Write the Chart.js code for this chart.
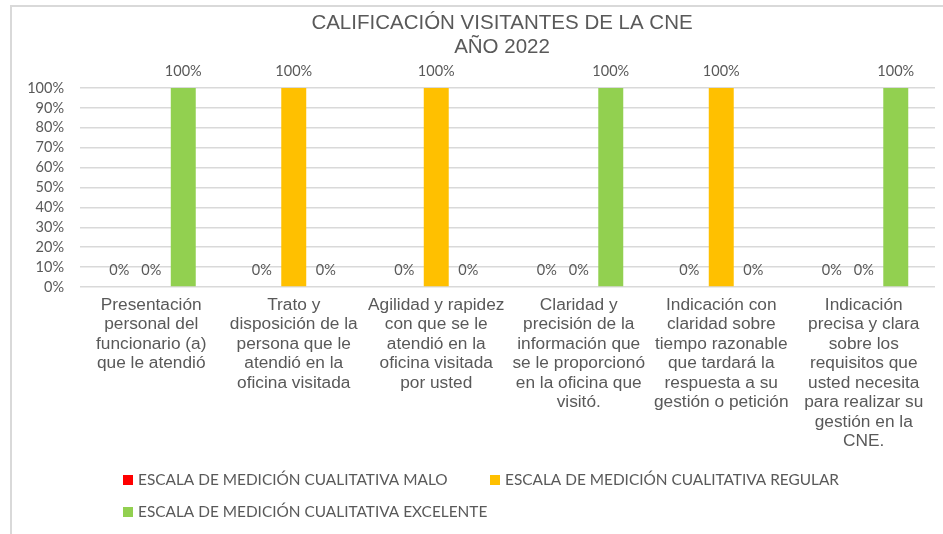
<!DOCTYPE html>
<html>
<head>
<meta charset="utf-8">
<script src="https://cdn.jsdelivr.net/npm/chart.js@4"></script>
<style>
    html, body { margin: 0; padding: 0; background: #fff; overflow: hidden; }
    #marco {
        position: absolute; left: 10px; top: 5px;
        width: 980px; height: 527px;
        border-left: 2px solid #d9d9d9; border-top: 2px solid #d9d9d9;
    }
    #grafico { display: block; }
</style>
</head>
<body>
<div id="marco"><canvas id="grafico" width="980" height="527"></canvas></div>
<script>
const categorias = [
    ['Presentación', 'personal del', 'funcionario (a)', 'que le atendió'],
    ['Trato y', 'disposición de la', 'persona que le', 'atendió en la', 'oficina visitada'],
    ['Agilidad y rapidez', 'con que se le', 'atendió en la', 'oficina visitada', 'por usted'],
    ['Claridad y', 'precisión de la', 'información que', 'se le proporcionó', 'en la oficina que', 'visitó.'],
    ['Indicación con', 'claridad sobre', 'tiempo razonable', 'que tardará la', 'respuesta a su', 'gestión o petición'],
    ['Indicación', 'precisa y clara', 'sobre los', 'requisitos que', 'usted necesita', 'para realizar su', 'gestión en la', 'CNE.']
];
const malo = [0, 0, 0, 0, 0, 0];
const regular = [0, 100, 100, 0, 100, 0];
const excelente = [100, 0, 0, 100, 0, 100];
const tituloLineas = ['CALIFICACIÓN VISITANTES DE LA CNE', 'AÑO 2022'];
const seriesNombres = [
    'ESCALA DE MEDICIÓN CUALITATIVA MALO',
    'ESCALA DE MEDICIÓN CUALITATIVA REGULAR',
    'ESCALA DE MEDICIÓN CUALITATIVA EXCELENTE'
];

const gris = '#595959';

// etiquetas encima de cada barra
const etiquetasPlugin = {
    id: 'etiquetas',
    afterDatasetsDraw(chart) {
        const ctx = chart.ctx;
        ctx.save();
        ctx.font = '14.5px Lato';
        ctx.fillStyle = gris;
        ctx.textAlign = 'center';
        ctx.textBaseline = 'middle';
        chart.data.datasets.forEach((ds, i) => {
            chart.getDatasetMeta(i).data.forEach((bar, j) => {
                ctx.fillText(ds.data[j] + '%', bar.x, bar.y - 17);
            });
        });
        ctx.restore();
    }
};

// leyenda como en excel: dos columnas alineadas a la izquierda
const leyendaPlugin = {
    id: 'leyenda',
    afterDraw(chart) {
        const ctx = chart.ctx;
        const pos = [[111, 473], [478, 473], [111, 505]];
        ctx.save();
        ctx.font = '15.4px Lato';
        ctx.textBaseline = 'middle';
        ctx.textAlign = 'left';
        chart.data.datasets.forEach((ds, i) => {
            const [x, y] = pos[i];
            ctx.fillStyle = ds.backgroundColor;
            ctx.fillRect(x, y - 5, 10, 10);
            ctx.fillStyle = gris;
            ctx.fillText(ds.label, x + 15, y);
        });
        ctx.restore();
    }
};

new Chart(document.getElementById('grafico').getContext('2d'), {
    type: 'bar',
    data: {
        labels: categorias,
        datasets: [
            { label: seriesNombres[0], data: malo, backgroundColor: '#ff0000' },
            { label: seriesNombres[1], data: regular, backgroundColor: '#ffc000' },
            { label: seriesNombres[2], data: excelente, backgroundColor: '#92d050' }
        ]
    },
    options: {
        responsive: false,
        animation: false,
        layout: { padding: 0 },
        datasets: {
            bar: { categoryPercentage: 0.674, barPercentage: 0.78 }
        },
        plugins: {
            legend: { display: false },
            tooltip: { enabled: false },
            title: {
                display: true,
                text: tituloLineas,
                color: gris,
                font: { family: 'Liberation Sans', size: 20.5, weight: 'normal', lineHeight: 1.17 },
                padding: { top: 4.5, bottom: 28.5 }
            }
        },
        scales: {
            y: {
                min: 0,
                max: 100,
                border: { display: false },
                grid: { color: '#d9d9d9', lineWidth: 1.5, drawTicks: false },
                ticks: {
                    stepSize: 10,
                    autoSkip: false,
                    color: gris,
                    padding: 16,
                    font: { family: 'Lato', size: 14.5 },
                    callback: v => v + '%'
                },
                afterFit: s => { s.width = 68; }
            },
            // eje vacio a la derecha, solo para dejar el margen
            margen: {
                type: 'linear',
                position: 'right',
                border: { display: false },
                grid: { display: false, drawTicks: false },
                ticks: { display: false },
                afterFit: s => { s.width = 57; }
            },
            x: {
                border: { display: false },
                grid: { display: false, drawTicks: false },
                ticks: {
                    color: gris,
                    padding: 8,
                    maxRotation: 0,
                    autoSkip: false,
                    font: { family: 'Liberation Sans', size: 17.3, lineHeight: 1.13 }
                },
                afterFit: s => { s.height = 247; }
            }
        }
    },
    plugins: [etiquetasPlugin, leyendaPlugin]
});
</script>
</body>
</html>
